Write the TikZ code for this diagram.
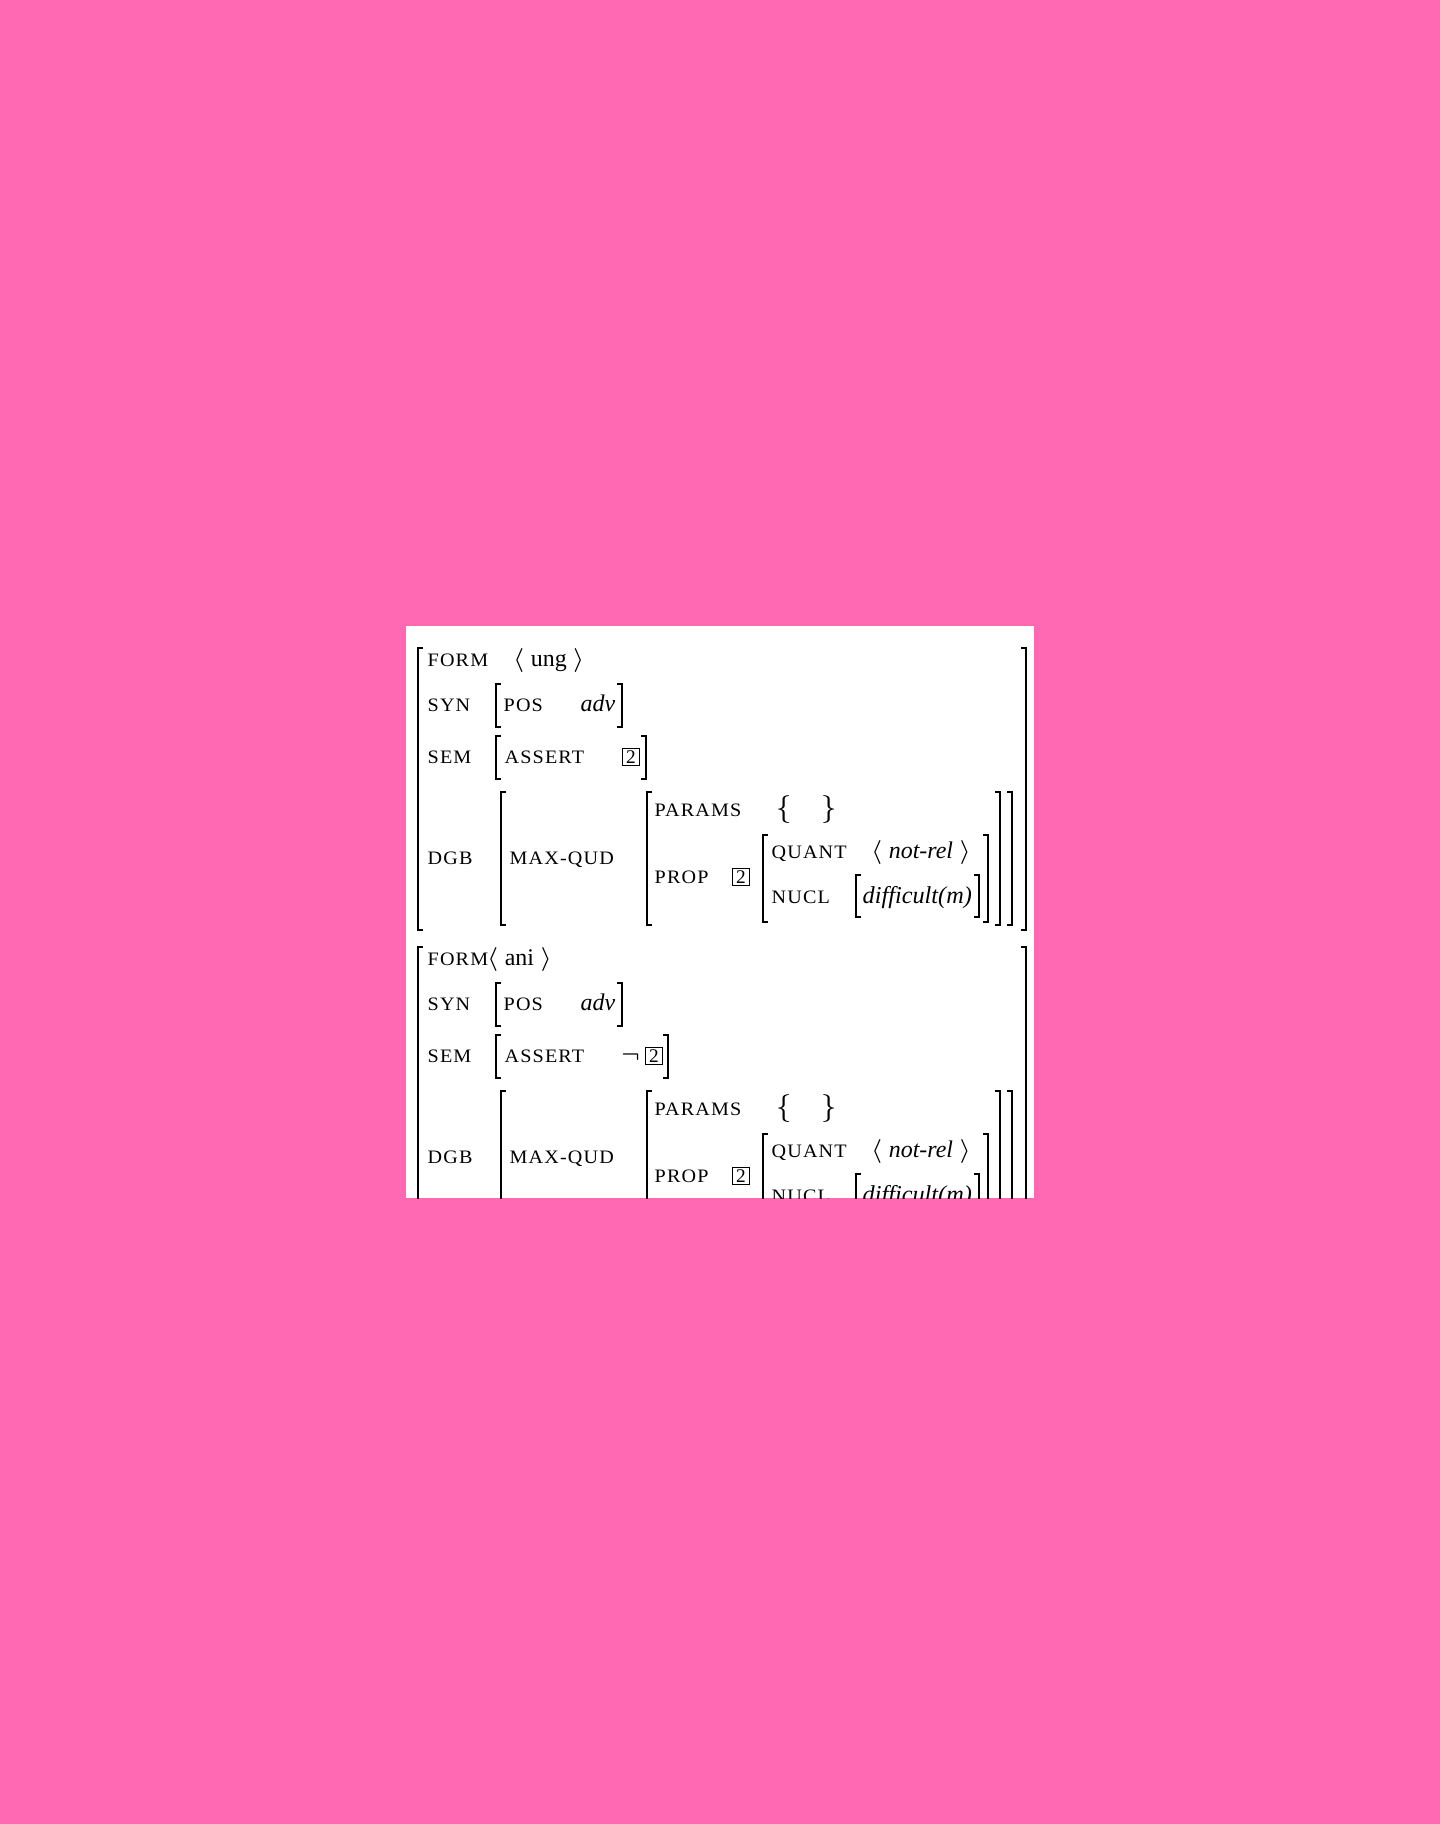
\RequirePackage{fix-cm}
\documentclass[tikz,border=0pt]{standalone}
\usepackage{fontspec}
\setmainfont{Liberation Serif}
\newfontfamily\attrfont[FakeStretch=1.06,LetterSpace=6]{Liberation Serif}
\definecolor{bgpink}{RGB}{255,105,180}

\begin{document}
\begin{tikzpicture}
  [x=0.01cm,y=-0.01cm,
   attr/.style={anchor=base west,inner sep=0,font=\attrfont\fontsize{5.4}{6}\selectfont},
   val/.style={anchor=base west,inner sep=0,font=\fontsize{6.8}{8}\selectfont},
   brace/.style={anchor=base west,inner sep=0,font=\fontsize{7.9}{9}\selectfont},
   tagbox/.style={draw,line width=0.45pt,minimum size=0.17cm,inner sep=0,font=\fontsize{5.5}{6}\selectfont},
   brk/.style={line width=0.45pt}]
\useasboundingbox (0,0) rectangle (1440,1824);
\fill[bgpink] (0,0) rectangle (1440,1824);
\fill[white] (406,626) rectangle (1034,1198);

\begin{scope}
\clip (406,626) rectangle (1034,1198);

% first entry
\node (forma)[attr] at (427,666) {FORM};
\node (unga)[val] at (512,666) {$\langle$ ung $\rangle$};
\node (taga)[tagbox] at (631,757) {2};

% second entry
\node (formb)[attr] at (427,965) {FORM};
\node (anib)[val] at (486,965) {$\langle$ ani $\rangle$};
\node (negb)[val] at (620,1062) {$\neg$};
\node (tagb)[tagbox] at (654,1056) {2};

% rows both entries share
\foreach \dy/\s/\r in {0/a/646,299/b/668}{
 \begin{scope}[shift={(0,\dy)}]
  \node (syn\s)[attr] at (427,711) {SYN};
  \node (pos\s)[attr] at (503,711) {POS};
  \node (adv\s)[val] at (580,711) {\textit{adv}};
  \node (sem\s)[attr] at (427,763) {SEM};
  \node (assert\s)[attr] at (504,763) {ASSERT};
  \node (dgb\s)[attr] at (427,864) {DGB};
  \node (maxqud\s)[attr] at (509,864) {MAX-QUD};
  \node (params\s)[attr] at (654,816) {PARAMS};
  \node (lbrace\s)[brace] at (775,816) {$\{$};
  \node (rbrace\s)[brace] at (820,816) {$\}$};
  \node (prop\s)[attr] at (654,883) {PROP};
  \node (proptag\s)[tagbox] at (741,877) {2};
  \node (quant\s)[attr] at (771,858) {QUANT};
  \node (notrel\s)[val] at (870,858) {$\langle$ \textit{not-rel} $\rangle$};
  \node (nucl\s)[attr] at (771,903) {NUCL};
  \node (diff\s)[val,font=\fontsize{6.9}{8}\selectfont] at (862,903) {\textit{difficult(m)}};

  \draw[brk] (423,648) -| (418,930) -- (423,930);
  \draw[brk] (1021,648) -| (1026,930) -- (1021,930);
  \draw[brk] (501,684) -| (496,727) -- (501,727);
  \draw[brk] (617,684) -| (622,727) -- (617,727);
  \draw[brk] (501,736) -| (496,779) -- (501,779);
  \draw[brk] (\r-5,736) -| (\r,779) -- (\r-5,779);
  \draw[brk] (506,792) -| (501,925) -- (506,925);
  \draw[brk] (652,792) -| (647,925) -- (652,925);
  \draw[brk] (768,835) -| (763,922) -- (768,922);
  \draw[brk] (861,875) -| (856,917) -- (861,917);
  \draw[brk] (974,875) -| (979,917) -- (974,917);
  \draw[brk] (983,835) -| (988,922) -- (983,922);
  \draw[brk] (995,792) -| (1000,925) -- (995,925);
  \draw[brk] (1007,792) -| (1012,925) -- (1007,925);
 \end{scope}
}
\end{scope}
\end{tikzpicture}
\end{document}
